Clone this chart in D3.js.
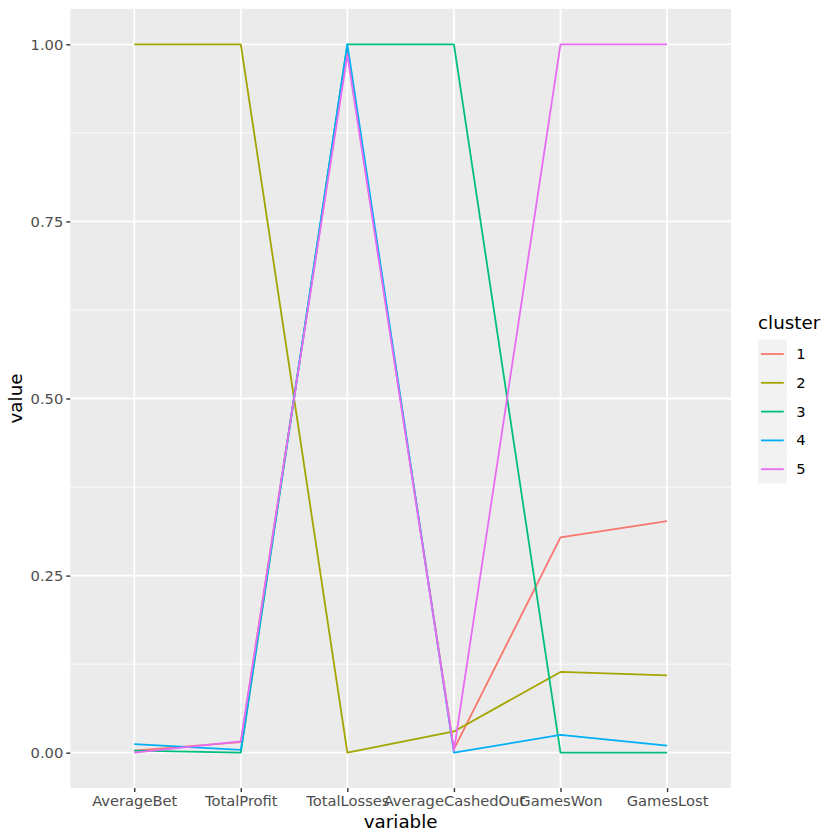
<!DOCTYPE html>
<html><head><meta charset="utf-8">
<script src="https://cdn.jsdelivr.net/npm/d3@7"></script>
<style>html,body{margin:0;padding:0;background:#fff}svg{display:block}text{font-family:"DejaVu Sans",sans-serif}</style>
</head><body><svg id="c" width="840" height="840"></svg>
<script>
const variables = ["AverageBet","TotalProfit","TotalLosses","AverageCashedOut","GamesWon","GamesLost"];
const clusters = ["1","2","3","4","5"];
const colors = ["#F8766D","#A3A500","#00BF7D","#00B0F6","#E76BF3"];
const cluster1 = [0.003,0.015,0.990,0.005,0.304,0.327];
const cluster2 = [1.000,1.000,0.000,0.030,0.114,0.109];
const cluster3 = [0.003,0.000,1.000,1.000,0.000,0.000];
const cluster4 = [0.012,0.004,1.000,0.000,0.025,0.010];
const cluster5 = [0.000,0.016,0.985,0.003,1.000,1.000];
const series = [cluster1,cluster2,cluster3,cluster4,cluster5];
const yMajor = [0,0.25,0.5,0.75,1];
const yMinor = [0.125,0.375,0.625,0.875];

const L=70.3,R=731,T=8.9,B=788.1;
const svg=d3.select("#c");
svg.append("rect").attr("width",840).attr("height",840).attr("fill","#fff");
const x=d3.scalePoint().domain(variables).range([L,R]).padding(0.6);
const y=d3.scaleLinear().domain([-0.05,1.05]).range([B,T]);
svg.append("rect").attr("x",L).attr("y",T).attr("width",R-L).attr("height",B-T).attr("fill","#EBEBEB");
const g=svg.append("g");
g.selectAll(".minor").data(yMinor).join("line").attr("x1",L).attr("x2",R)
 .attr("y1",d=>y(d)).attr("y2",d=>y(d)).attr("stroke","#fff").attr("stroke-width",0.9);
g.selectAll(".major").data(yMajor).join("line").attr("x1",L).attr("x2",R)
 .attr("y1",d=>y(d)).attr("y2",d=>y(d)).attr("stroke","#fff").attr("stroke-width",1.8);
g.selectAll(".vmajor").data(variables).join("line").attr("y1",T).attr("y2",B)
 .attr("x1",d=>x(d)).attr("x2",d=>x(d)).attr("stroke","#fff").attr("stroke-width",1.8);
const line=d3.line().x((d,i)=>x(variables[i])).y(d=>y(d)).curve(d3.curveLinear);
svg.append("g").selectAll("path").data(series).join("path")
 .attr("d",line).attr("fill","none").attr("stroke",(d,i)=>colors[i]).attr("stroke-width",1.8)
 .attr("stroke-linejoin","round");

const ax=svg.append("g").attr("transform",`translate(0,${B})`)
 .call(d3.axisBottom(x).tickSize(4).tickPadding(3));
const ay=svg.append("g").attr("transform",`translate(${L},0)`)
 .call(d3.axisLeft(y).tickValues(yMajor).tickFormat(d3.format(".2f")).tickSize(4).tickPadding(3));
[ax,ay].forEach(a=>{a.select(".domain").remove();
 a.selectAll(".tick line").attr("stroke","#333").attr("stroke-width",1.4);
 a.selectAll("text").attr("fill","#4D4D4D").style("font-size","14.7px").style("font-family",'"DejaVu Sans",sans-serif');});
svg.append("text").attr("x",(L+R)/2).attr("y",828).attr("text-anchor","middle").style("font-size","18.3px").text("variable");
svg.append("text").attr("transform",`translate(22,${(T+B)/2}) rotate(-90)`).attr("text-anchor","middle").style("font-size","18.3px").text("value");

const keyH=28.8,keyX=758,keyW=28.8,keyY=339.6;
const leg=svg.append("g");
leg.append("text").attr("x",keyX).attr("y",329).style("font-size","18.3px").text("cluster");
const k=leg.selectAll("g").data(clusters).join("g").attr("transform",(d,i)=>`translate(${keyX},${keyY+i*keyH})`);
k.append("rect").attr("width",keyW).attr("height",keyH).attr("fill","#F2F2F2");
k.append("line").attr("x1",3).attr("x2",keyW-3).attr("y1",keyH/2).attr("y2",keyH/2)
 .attr("stroke",(d,i)=>colors[i]).attr("stroke-width",1.8);
k.append("text").attr("x",keyW+9.5).attr("y",keyH/2+5).style("font-size","14.7px").text(d=>d);
</script></body></html>
